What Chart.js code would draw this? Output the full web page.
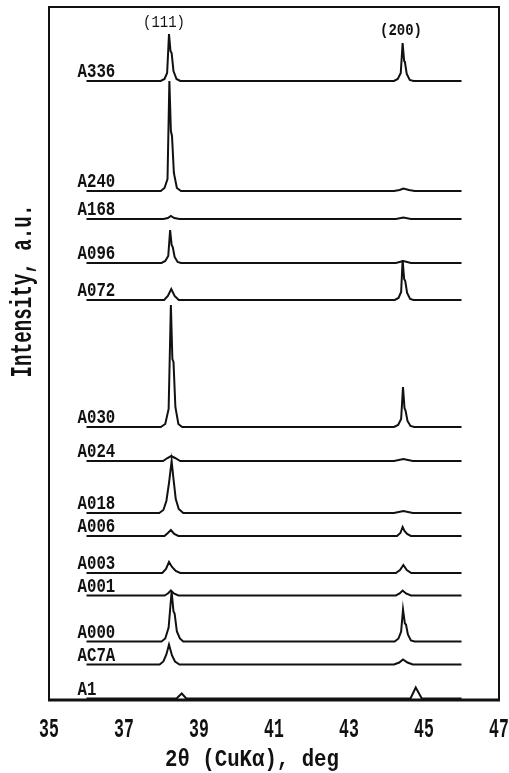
<!DOCTYPE html>
<html>
<head>
<meta charset="utf-8">
<style>
  html, body { margin: 0; padding: 0; background: #fff; }
  #wrap { width: 509px; height: 773px; position: relative; }
</style>
<script src="https://cdn.jsdelivr.net/npm/chart.js@4.4.0/dist/chart.umd.min.js"></script>
</head>
<body>
<div id="wrap"><canvas id="chart"></canvas></div>
<script>
// sample names, top to bottom
const samples = ["A336", "A240", "A168", "A096", "A072", "A030", "A024", "A018", "A006", "A003", "A001", "A000", "AC7A", "A1"];
// vertical offset of each pattern (a.u.)
const offsets = [619, 509, 481, 437, 400, 273, 239, 187, 164, 127, 104.5, 58.5, 35.5, 1.5];

// [2theta, intensity above own baseline]
const A336 = [[36,0],[37.98,0],[38.08,2],[38.15,8],[38.2,47],[38.24,30],[38.27,28],[38.32,10],[38.4,2],[38.5,0],[44.2,0],[44.3,2],[44.38,8],[44.43,38],[44.47,20],[44.49,19],[44.54,7],[44.62,1],[44.72,0],[46,0]];
const A240 = [[36,0],[37.98,0],[38.08,3],[38.16,12],[38.21,110],[38.25,60],[38.28,55],[38.33,18],[38.41,3],[38.52,0],[44.2,0],[44.35,1],[44.45,2.5],[44.6,1],[44.75,0],[46,0]];
const A168 = [[36,0],[38.05,0],[38.17,1],[38.25,3],[38.34,1],[38.48,0],[44.25,0],[44.45,1.5],[44.65,0],[46,0]];
const A096 = [[36,0],[38.0,0],[38.1,2],[38.18,7],[38.23,33],[38.27,18],[38.3,16],[38.35,6],[38.43,1],[38.52,0],[44.25,0],[44.45,2],[44.65,0],[46,0]];
const A072 = [[36,0],[38.07,0],[38.17,4],[38.26,11],[38.35,4],[38.46,0],[44.22,0],[44.32,2],[44.39,8],[44.43,40],[44.47,21],[44.5,19],[44.55,7],[44.63,1],[44.72,0],[46,0]];
const A030 = [[36,0],[37.98,0],[38.1,3],[38.19,18],[38.25,122],[38.29,68],[38.32,65],[38.37,20],[38.45,3],[38.55,0],[44.2,0],[44.31,2],[44.39,8],[44.44,40],[44.48,19],[44.51,16],[44.56,6],[44.64,1],[44.74,0],[46,0]];
const A024 = [[36,0],[38.04,0],[38.16,3],[38.26,5],[38.36,3],[38.5,0],[44.2,0],[44.45,2],[44.7,0],[46,0]];
const A018 = [[36,0],[37.94,0],[38.05,3],[38.13,12],[38.2,30],[38.27,52],[38.32,34],[38.38,14],[38.46,4],[38.58,0],[44.2,0],[44.45,2],[44.7,0],[46,0]];
const A006 = [[36,0],[38.08,0],[38.17,3],[38.25,6],[38.34,2],[38.45,0],[44.28,0],[44.37,3],[44.43,9],[44.48,5],[44.55,2],[44.65,0],[46,0]];
const A003 = [[36,0],[38.02,0],[38.12,4],[38.2,11],[38.28,6],[38.38,2],[38.5,0],[44.25,0],[44.36,3],[44.45,8],[44.54,3],[44.66,0],[46,0]];
const A001 = [[36,0],[38.08,0],[38.17,2],[38.25,5],[38.33,2],[38.45,0],[44.25,0],[44.35,2],[44.43,5],[44.52,2],[44.65,0],[46,0]];
const A000 = [[36,0],[38.0,0],[38.1,3],[38.19,14],[38.27,50],[38.32,30],[38.35,28],[38.41,10],[38.49,3],[38.58,0],[44.22,0],[44.32,3],[44.39,10],[44.44,32],[44.49,18],[44.52,17],[44.57,7],[44.65,1],[44.75,0],[46,0]];
const AC7A = [[36,0],[37.95,0],[38.05,3],[38.13,10],[38.2,20],[38.28,9],[38.36,3],[38.48,0],[44.2,0],[44.34,2],[44.44,5],[44.56,2],[44.7,0],[46,0]];
const A1 = [[36,0],[38.4,0],[38.54,5],[38.66,0],[44.64,0],[44.78,11],[44.94,0],[46,0]];
const traces = [A336, A240, A168, A096, A072, A030, A024, A018, A006, A003, A001, A000, AC7A, A1];

// peak labels [2theta, height]
const peakNames = ["(111)", "(200)"];
const xTicks = [35, 37, 39, 41, 43, 45, 47];

const INK = "#111";

function scaledText(ctx, text, x, y, font, sx, sy, align, baseline, rot) {
    ctx.save();
    ctx.translate(x, y);
    if (rot) ctx.rotate(rot);
    ctx.scale(sx, sy);
    ctx.font = font;
    ctx.fillStyle = INK;
    ctx.textAlign = align;
    ctx.textBaseline = baseline;
    ctx.fillText(text, 0, 0);
    ctx.restore();
}

const decor = {
    id: "decor",
    beforeDatasetsDraw(chart) {
        const ctx = chart.ctx;
        const a = chart.chartArea;
        ctx.save();
        ctx.strokeStyle = INK;
        ctx.lineWidth = 2;
        ctx.strokeRect(a.left, a.top, a.right - a.left, a.bottom - a.top);
        ctx.lineWidth = 3;
        ctx.beginPath();
        ctx.moveTo(a.left - 1, a.bottom);
        ctx.lineTo(a.right + 1, a.bottom);
        ctx.stroke();
        ctx.restore();
    },
    afterDraw(chart) {
        const ctx = chart.ctx;
        const xs = chart.scales.x;
        const ys = chart.scales.y;
        // sample names
        samples.forEach((s, i) => {
            const px = xs.getPixelForValue(36) - 9;
            const py = ys.getPixelForValue(offsets[i]) - 4;
            scaledText(ctx, s, px, py, "bold 15px 'Liberation Mono'", 1.05, 1.4, "left", "alphabetic");
        });
        // tick labels
        xs.ticks.forEach(t => {
            scaledText(ctx, String(t.value), xs.getPixelForValue(t.value), 737,
                "bold 15px 'Liberation Mono'", 1.1, 1.8, "center", "alphabetic");
        });
        // peak labels
        scaledText(ctx, peakNames[0], 164, 23, "14px 'Liberation Mono'", 1.0, 1.15, "center", "middle");
        scaledText(ctx, peakNames[1], 401, 31, "bold 14px 'Liberation Mono'", 1.0, 1.15, "center", "middle");
        // axis titles
        scaledText(ctx, "2θ (CuKα), deg", 252, 766, "bold 18px 'Liberation Mono'", 1.15, 1.35, "center", "alphabetic");
        scaledText(ctx, "Intensity, a.u.", 31, 291, "bold 20px 'Liberation Mono'", 0.96, 1.5, "center", "alphabetic", -Math.PI / 2);
    }
};

const datasets = traces.map((tr, i) => ({
    label: samples[i],
    data: tr.map(p => ({ x: p[0], y: p[1] + offsets[i] })),
    borderColor: INK,
    borderWidth: 2,
    pointRadius: 0,
    tension: 0,
    fill: false
}));

new Chart(document.getElementById("chart"), {
    type: "line",
    data: { datasets: datasets },
    options: {
        responsive: true,
        maintainAspectRatio: false,
        animation: false,
        layout: { padding: { left: 49, right: 10, top: 7, bottom: 0 } },
        plugins: { legend: { display: false }, tooltip: { enabled: false } },
        scales: {
            x: {
                type: "linear",
                min: 35,
                max: 47,
                afterBuildTicks: (scale) => { scale.ticks = xTicks.map(v => ({ value: v })); },
                afterFit: (scale) => { scale.height = 73; },
                ticks: { display: false },
                grid: { display: false },
                border: { display: false }
            },
            y: {
                type: "linear",
                min: 0,
                max: 693,
                display: false
            }
        }
    },
    plugins: [decor]
});
</script>
</body>
</html>
